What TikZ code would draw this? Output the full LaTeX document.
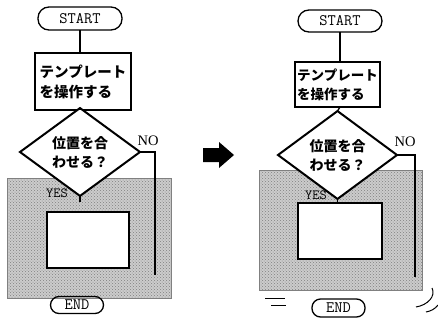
\documentclass[tikz,border=0pt]{standalone}
\usepackage{fontspec}
\setmainfont{Liberation Serif}
\newfontfamily\jp{Noto Sans CJK JP}
\usetikzlibrary{shapes.geometric,patterns}
\begin{document}
\begin{tikzpicture}[x=1pt,y=-1pt,
  every node/.style={inner sep=0pt, outer sep=0pt},
  term/.style={draw, line width=1.3pt, rounded corners=8.5pt, font=\ttfamily\fontsize{16}{16}\selectfont},
  proc/.style={draw, line width=1.3pt, align=left, font=\jp\bfseries\fontsize{14.5}{20}\selectfont},
  procsmall/.style={proc, font=\jp\bfseries\fontsize{13.5}{19}\selectfont},
  dec/.style={draw, line width=2pt, fill=white, diamond, align=center, font=\jp\bfseries\fontsize{14}{19}\selectfont},
  shade/.style={draw=black!50, line width=0.6pt, fill=black!20, postaction={pattern=crosshatch dots, pattern color=black!50}},
  wbox/.style={draw, line width=1.3pt, fill=white},
  conn/.style={line width=1.3pt},
  lab/.style={font=\ttfamily\fontsize{14}{14}\selectfont},
  nolab/.style={font=\rmfamily\fontsize{14.5}{14.5}\selectfont}
]
\useasboundingbox[fill=white] (0,0) rectangle (438,324);

% ---------- left chart ----------
\node[shade, minimum width=164pt, minimum height=120pt] (shL) at (89,238) {};
\node[term, minimum width=84pt, minimum height=23pt, rounded corners=11pt] (startL) at (80,18.5) {START};
\node[proc, minimum width=96pt, minimum height=57pt] (procL) at (83,81.5) {テンプレート\\を操作する};
\node[dec, minimum width=120pt, minimum height=64pt] (decL) at (80,152) {位置を合\\わせる？};
\node[wbox, minimum width=82pt, minimum height=56pt] (boxL) at (88,240) {};
\node[term, minimum width=53pt, minimum height=17pt] (endL) at (77,305) {END};
\node[lab] (yesL) at (57,193) {YES};
\node[nolab] (noL) at (148,141) {NO};
\coordinate (noL1) at (155,152);
\coordinate (noL2) at (155,275);
\coordinate (yesLend) at (80,202);
\draw[conn] (startL.south) -- (startL.south |- procL.north);
\draw[conn] (procL.south -| startL.south) -- (decL.north);
\draw[conn] (decL.east) -- (noL1) -- (noL2);
\draw[conn] (decL.south) -- (yesLend);

% ---------- arrow ----------
\fill (203,148) -- (219,148) -- (219,142) -- (234,155) -- (219,168) -- (219,162) -- (203,162) -- cycle;

% ---------- right chart ----------
\node[shade, minimum width=163pt, minimum height=120pt] (shR) at (340.5,230) {};
\node[term, minimum width=84pt, minimum height=22pt, rounded corners=11pt] (startR) at (340,21) {START};
\node[procsmall, minimum width=85pt, minimum height=45pt] (procR) at (337.5,84.5) {テンプレート\\を操作する};
\node[dec, minimum width=119pt, minimum height=64pt] (decR) at (337.5,155) {位置を合\\わせる？};
\node[wbox, minimum width=84pt, minimum height=56pt] (boxR) at (340,231) {};
\node[term, minimum width=53pt, minimum height=18pt] (endR) at (338.5,308) {END};
\node[lab] (yesR) at (316,195) {YES};
\node[nolab] (noR) at (405,142) {NO};
\coordinate (noR1) at (415,155);
\coordinate (noR2) at (415,277);
\draw[conn] (startR.south) -- (startR.south |- procR.north);
\draw[conn] (procR.south -| startR.south) -- (decR.north);
\draw[conn] (decR.east) -- (noR1) -- (noR2);
\draw[conn] (decR.south) -- (decR.south |- boxR.north);

% ---------- motion marks ----------
\draw[line width=1pt] (265,298.5) -- (285,298.5);
\draw[line width=1pt] (271,305.5) -- (286,305.5);
\draw[line width=1pt] (432,288) .. controls (436,296) and (428,305) .. (416,307);
\draw[line width=1pt] (438,305) .. controls (435,309) and (431,311) .. (426,312);
\end{tikzpicture}
\end{document}
